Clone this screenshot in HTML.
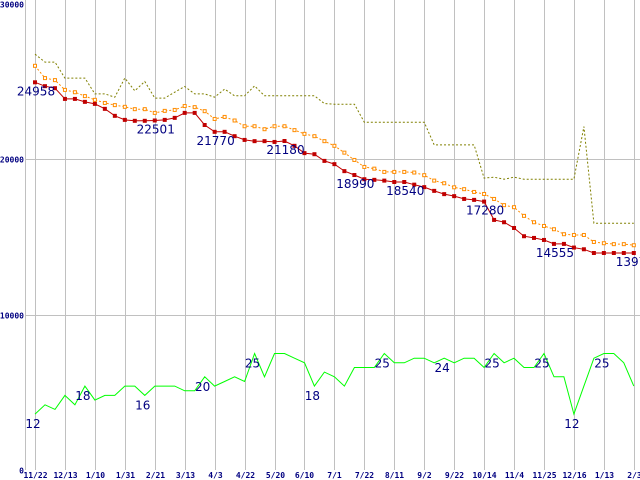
<!DOCTYPE html>
<html><head><meta charset="utf-8"><style>
html,body{margin:0;padding:0;background:#fff;}
svg{display:block;}
.yl{font-family:"DejaVu Sans Mono","Liberation Mono",monospace;font-size:8px;font-weight:bold;fill:#000080;}
.xl{font-family:"DejaVu Sans Mono","Liberation Mono",monospace;font-size:8px;font-weight:bold;fill:#000080;}
.vl{font-family:"DejaVu Sans","Liberation Sans",sans-serif;font-size:12px;fill:#000080;}
</style></head><body>
<svg id="chart" width="640" height="480" viewBox="0 0 640 480" xmlns="http://www.w3.org/2000/svg"></svg>
<script>
const xLabels = ["11/22","12/13","1/10","1/31","2/21","3/13","4/3","4/22","5/20","6/10","7/1","7/22","8/11","9/2","9/22","10/14","11/4","11/25","12/16","1/13","2/3"];
const yTicks = [0,10000,20000,30000];
const priceLow = [24958,24710,24580,23890,23890,23700,23570,23250,22800,22540,22480,22480,22501,22540,22670,22990,22990,22210,21770,21770,21490,21250,21170,21170,21120,21180,20870,20400,20330,19900,19690,19240,18990,18720,18680,18630,18540,18540,18370,18210,17970,17760,17630,17450,17390,17280,16100,15950,15580,15050,14940,14810,14555,14555,14320,14210,13970,13970,13970,13970,13970];
const priceAvg = [26020,25230,25100,24470,24320,24070,23830,23630,23490,23380,23230,23230,22990,23120,23180,23430,23360,23100,22600,22730,22500,22130,22130,21940,22130,22130,21880,21640,21490,21170,20870,20430,19960,19510,19400,19190,19190,19190,19150,18980,18630,18460,18200,18080,17900,17770,17450,17050,16920,16360,15950,15710,15500,15180,15130,15130,14680,14600,14540,14540,14470];
const priceHigh = [26770,26260,26260,25230,25230,25230,24210,24210,24000,25230,24410,25010,23940,23940,24320,24690,24210,24210,24000,24520,24090,24090,24730,24090,24090,24090,24090,24090,24090,23590,23550,23550,23550,22390,22390,22390,22390,22390,22390,22390,20930,20930,20930,20930,20930,18790,18850,18720,18850,18720,18720,18720,18720,18720,18720,22110,15890,15890,15890,15890,15890];
const counts = [12,14,13,16,14,18,15,16,16,18,18,16,18,18,18,17,17,20,18,19,20,19,25,20,25,25,24,23,18,21,20,18,22,22,22,25,23,23,24,24,23,24,23,24,24,22,25,23,24,22,22,25,20,20,12,18,24,25,25,23,18];
const priceLabelIdx = [0,12,18,25,32,37,45,52,60];
const countLabelIdx = [0,5,11,17,22,28,35,41,46,51,54,57];

const NS="http://www.w3.org/2000/svg";
const svg=document.getElementById('chart');
const X0=35, DX=9.98, L=25, R=640, TOP=4, BOT=470;
function xPos(i){return X0+i*DX;}
function yPrice(v){return BOT-(v/30000)*(BOT-TOP);}
function yCount(c){return BOT-(c/100)*(BOT-TOP);}
function mk(tag,attrs){const e=document.createElementNS(NS,tag);for(const k in attrs)e.setAttribute(k,attrs[k]);svg.appendChild(e);return e;}

let e=mk('line',{x1:L+0.5,y1:0,x2:L+0.5,y2:BOT,stroke:'#c0c0c0','stroke-width':1});


xLabels.forEach((lab,k)=>{
  const x=Math.round(xPos(k*3))+0.5;
  const g=mk('line',{x1:x,y1:0,x2:x,y2:BOT,stroke:'#c0c0c0','stroke-width':1});
  
  
  const t=mk('text',{x:x,y:478,'text-anchor':'middle',class:'xl'});
  t.textContent=lab;
  
  
});
yTicks.forEach(v=>{
  const y=Math.round(yPrice(v))+0.5;
  if(v>0&&v<30000){
    const g=mk('line',{x1:L,y1:y,x2:R,y2:y,stroke:'#c0c0c0','stroke-width':1});
    
    
  }
  const t=mk('text',{x:24,y:Math.max(y+3,7),'text-anchor':'end',class:'yl'});
  t.textContent=String(v);
  
  
});

function pts(arr,f){return arr.map((v,i)=>xPos(i).toFixed(1)+','+f(v).toFixed(1)).join(' ');}
e=mk('polyline',{points:pts(priceHigh,yPrice),fill:'none',stroke:'#808000','stroke-width':1,'stroke-dasharray':'2,2'});


e=mk('polyline',{points:pts(priceAvg,yPrice),fill:'none',stroke:'#ff8c00','stroke-width':1,'stroke-dasharray':'2,2'});


priceAvg.forEach((v,i)=>{
  const m=mk('rect',{x:xPos(i)-1.5,y:yPrice(v)-1.5,width:3,height:3,fill:'#fff',stroke:'#ff8c00','stroke-width':1});
  
  
});
e=mk('polyline',{points:pts(priceLow,yPrice),fill:'none',stroke:'#c00000','stroke-width':1});


priceLow.forEach((v,i)=>{
  const m=mk('rect',{x:xPos(i)-2,y:yPrice(v)-2,width:4,height:4,fill:'#c00000'});
  
  
});
e=mk('polyline',{points:pts(counts,yCount),fill:'none',stroke:'#00ff00','stroke-width':1});



priceLabelIdx.forEach(i=>{
  const t=mk('text',{x:xPos(i)+1,y:yPrice(priceLow[i])+13,'text-anchor':'middle',class:'vl'});
  t.textContent=String(priceLow[i]);
  
  
});
countLabelIdx.forEach(i=>{
  const t=mk('text',{x:xPos(i)-2,y:yCount(counts[i])+14,'text-anchor':'middle',class:'vl'});
  t.textContent=String(counts[i]);
  
  
});
</script>
</body></html>
